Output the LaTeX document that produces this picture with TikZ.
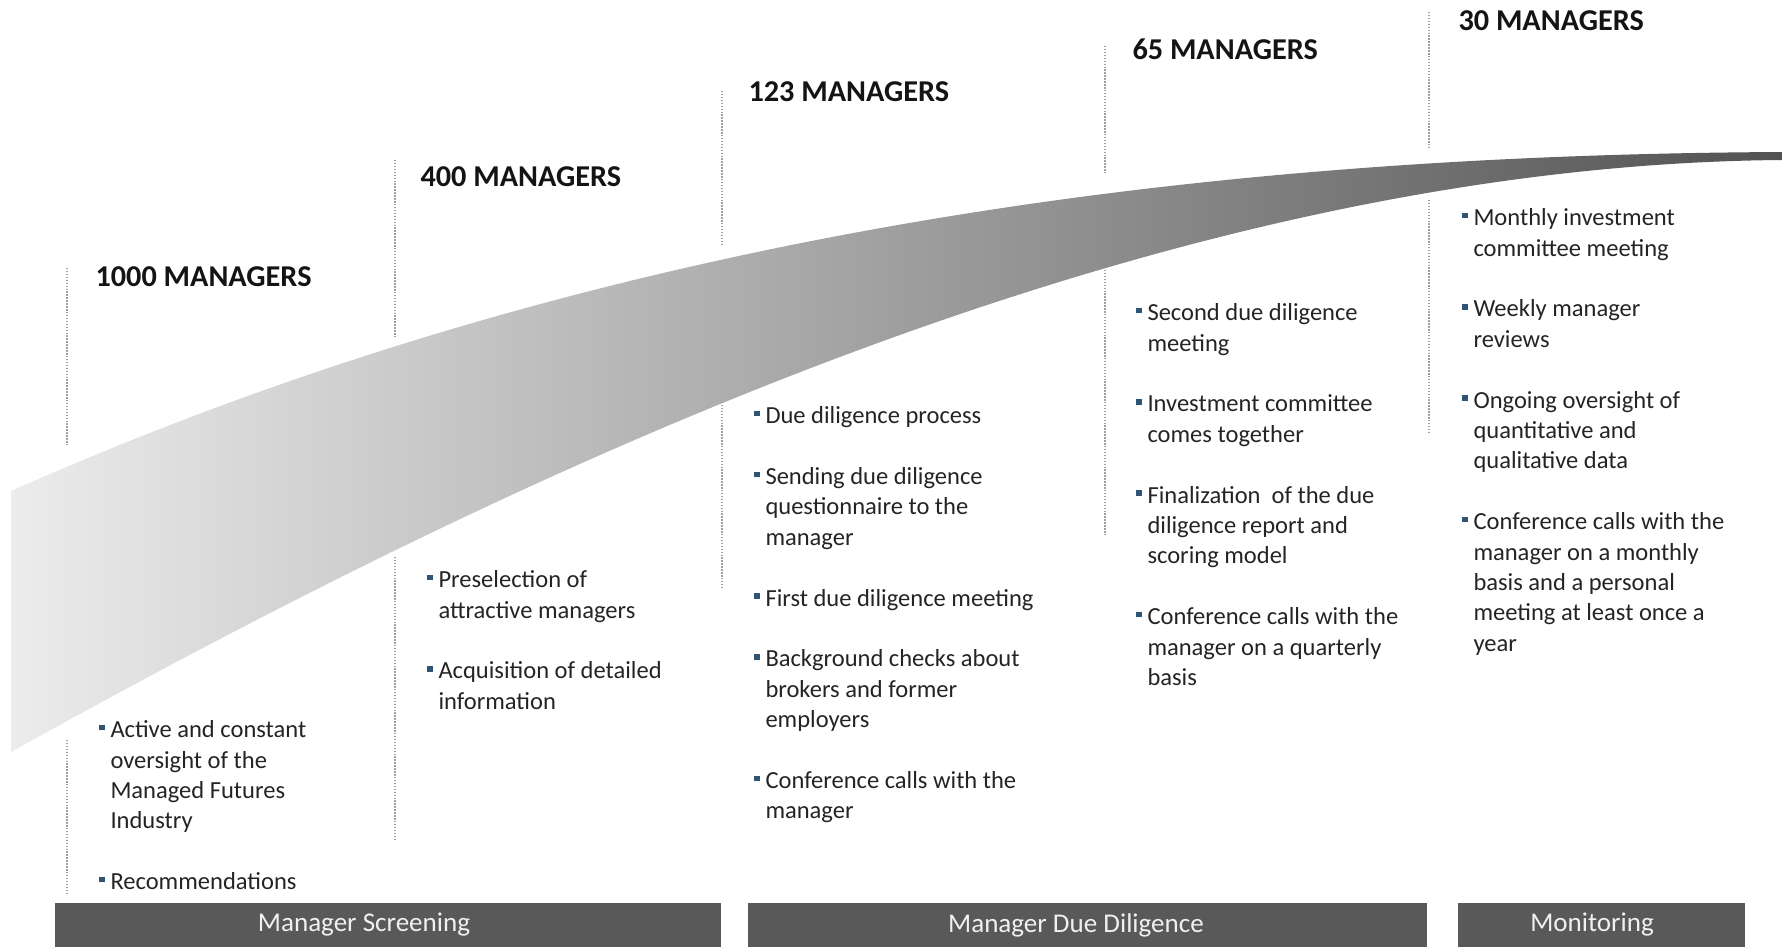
\documentclass[tikz,border=0pt]{standalone}
\usepackage{fontspec}
\setmainfont{Carlito}

\newcommand{\mbul}{\llap{\textcolor[RGB]{47,84,118}{\rule[5.5pt]{4.3pt}{4.3pt}}\hspace{4.5pt}}}
\newcommand{\igap}{\\[22.8pt]}

\tikzset{every picture/.style={line width=0.75pt}}
\tikzset{
	sep line/.style={draw={rgb, 255:red, 160; green, 160; blue, 160 }, line width=1.1pt, dash pattern=on 1.1pt off 1.1pt},
	head text/.style={anchor=base west, inner sep=0pt, font=\fontsize{22.7}{27}\selectfont\bfseries, text={rgb, 255:red, 20; green, 20; blue, 20 }},
	body text/.style={anchor=north west, inner sep=0pt, align=left, font=\fontsize{18.4}{22.8}\selectfont, text={rgb, 255:red, 36; green, 36; blue, 36 }},
	bar text/.style={inner sep=0pt, font=\fontsize{20.3}{24}\selectfont, text={rgb, 255:red, 240; green, 240; blue, 240 }},
	bar fill/.style={fill={rgb, 255:red, 89; green, 89; blue, 89 }}
}

\begin{document}
\begin{tikzpicture}[x=0.75pt,y=0.75pt,yscale=-1,xscale=1]
	\useasboundingbox (0,0) rectangle (1789,947);

	%Shape: Curve band
	\shade [left color={rgb, 255:red, 236; green, 236; blue, 236 }, right color={rgb, 255:red, 82; green, 82; blue, 82 }]
	(11,491) .. controls (600,230) and (1200,155) .. (1782,152) -- (1782,160)
	.. controls (1150,165) and (500,480) .. (11,752) -- cycle ;

	%Straight Lines
	\draw [sep line] (67,268) -- (67,445) ;
	\draw [sep line] (67,740) -- (67,895) ;
	%Straight Lines
	\draw [sep line] (395,160) -- (395,337) ;
	\draw [sep line] (395,557) -- (395,840) ;
	%Straight Lines
	\draw [sep line] (722,91) -- (722,246) ;
	\draw [sep line] (722,402) -- (722,588) ;
	%Straight Lines
	\draw [sep line] (1105,46) -- (1105,173) ;
	\draw [sep line] (1105,270) -- (1105,535) ;
	%Straight Lines
	\draw [sep line] (1429,12) -- (1429,147) ;
	\draw [sep line] (1429,200) -- (1429,432) ;

	%Shape: Rectangle
	\draw [bar fill, draw opacity=0] (55,903) -- (721,903) -- (721,947) -- (55,947) -- cycle ;
	%Shape: Rectangle
	\draw [bar fill, draw opacity=0] (748,903) -- (1427,903) -- (1427,947) -- (748,947) -- cycle ;
	%Shape: Rectangle
	\draw [bar fill, draw opacity=0] (1458,903) -- (1745,903) -- (1745,947) -- (1458,947) -- cycle ;

	% Text Node
	\draw (95,286.5) node [head text] (h1000) {1000 MANAGERS};
	% Text Node
	\draw (420,186.5) node [head text] (h400) {400 MANAGERS};
	% Text Node
	\draw (748,101.5) node [head text] (h123) {123 MANAGERS};
	% Text Node
	\draw (1132,59.5) node [head text] (h65) {65 MANAGERS};
	% Text Node
	\draw (1458,30.5) node [head text] (h30) {30 MANAGERS};

	% Text Node
	\draw (110,716) node [body text] (screenA) {\strut\mbul Active and constant\\oversight of the\\Managed Futures\\Industry\igap
		\mbul Recommendations};
	% Text Node
	\draw (438,566) node [body text] (screenB) {\strut\mbul Preselection of\\attractive managers\igap
		\mbul Acquisition of detailed\\information};
	% Text Node
	\draw (765,402) node [body text] (diligA) {\strut\mbul Due diligence process\igap
		\mbul Sending due diligence\\questionnaire to the\\manager\igap
		\mbul First due diligence meeting\igap
		\mbul Background checks about\\brokers and former\\employers\igap
		\mbul Conference calls with the\\manager};
	% Text Node
	\draw (1147,299) node [body text] (diligB) {\strut\mbul Second due diligence\\meeting\igap
		\mbul Investment committee\\comes together\igap
		\mbul Finalization\ \ of the due\\diligence report and\\scoring model\igap
		\mbul Conference calls with the\\manager on a quarterly\\basis};
	% Text Node
	\draw (1473,204) node [body text] (monit) {\strut\mbul Monthly investment\\committee meeting\igap
		\mbul Weekly manager\\reviews\igap
		\mbul Ongoing oversight of\\quantitative and\\qualitative data\igap
		\mbul Conference calls with the\\manager on a monthly\\basis and a personal\\meeting at least once a\\year};

	% Text Node
	\draw (364,925) node [bar text] (barScreen) {Manager Screening};
	% Text Node
	\draw (1076,925) node [bar text] (barDilig) {Manager Due Diligence};
	% Text Node
	\draw (1592,925) node [bar text] (barMonit) {Monitoring};

\end{tikzpicture}
\end{document}
